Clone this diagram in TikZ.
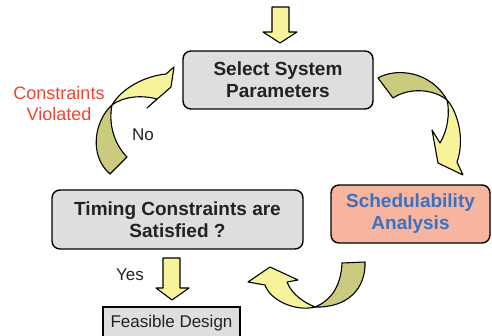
\documentclass[tikz,border=0pt]{standalone}
\usepackage{fontspec}
\setmainfont{Liberation Sans}
\definecolor{boxgray}{HTML}{DEDEDE}
\definecolor{salmon}{HTML}{F7B49E}
\definecolor{schedblue}{HTML}{3A72C2}
\definecolor{arrowlight}{HTML}{F6F39B}
\definecolor{arrowdark}{HTML}{CBCB80}
\definecolor{violred}{HTML}{EE4433}
\definecolor{textgray}{HTML}{222222}

\begin{document}
\begin{tikzpicture}[x=1pt, y=-1pt,
    stage/.style={draw, line width=1.4pt, rounded corners=8pt, fill=boxgray, align=center,
        text=textgray, font=\fontsize{19}{22}\selectfont\bfseries, inner sep=0pt},
    light/.style={draw, line width=1.1pt, line join=round, fill=arrowlight},
    dark/.style={draw, line width=1.1pt, line join=round, fill=arrowdark},
    note/.style={text=textgray, font=\fontsize{17}{20}\selectfont, inner sep=0pt}]

    \useasboundingbox (0,0) rectangle (492,336);
    \clip (0,0) rectangle (492,336);

    % Cac khoi chinh
    \node[stage, minimum width=190pt, minimum height=58pt] (select) at (278,80) {Select System\\Parameters};
    \node[stage, minimum width=251pt, minimum height=59pt] (timing) at (177.5,219.5) {Timing Constraints are\\Satisfied ?};
    \node[stage, fill=salmon, text=schedblue, minimum width=159pt, minimum height=58pt] (sched) at (410.5,214) {Schedulability\\Analysis};
    \node[draw, line width=1.4pt, fill=boxgray, text=textgray, font=\fontsize{17}{20}\selectfont,
        minimum width=137pt, minimum height=32pt, inner sep=0pt] (feasible) at (171.5,323) {Feasible Design};

    % Mui ten thang
    \draw[light] (272,7) -- (289,7) -- (289,32) -- (297,32) -- (280,43) -- (263,32) -- (272,32) -- cycle;
    \draw[light] (163,258) -- (180,258) -- (180,288) -- (189,288) -- (172,300) -- (156,288) -- (163,288) -- cycle;

    % Mui ten cong: select -> sched
    \draw[dark] (378,78) .. controls (395,68) and (430,70) .. (447,100)
        .. controls (432,88) and (408,88) .. (393,98) -- cycle;
    \draw[light] (447,100) .. controls (458,112) and (465,140) .. (457,162) -- (463,175) -- (438,163)
        -- (432,130) -- (440,143) .. controls (448,130) and (450,112) .. (447,100) -- cycle;

    % Mui ten cong: sched -> timing
    \draw[dark] (342,263) -- (365,262) .. controls (366,288) and (348,308) .. (315,307)
        .. controls (332,300) and (341,285) .. (342,263) -- cycle;
    \draw[light] (315,307) .. controls (295,312) and (270,300) .. (265,285) -- (248,282) -- (270,267)
        -- (298,280) -- (287,282) .. controls (292,295) and (305,303) .. (315,307) -- cycle;

    % Mui ten cong: timing -> select
    \draw[dark] (112,105) .. controls (95,120) and (88,155) .. (110,174) -- (127,157)
        .. controls (115,145) and (108,125) .. (112,105) -- cycle;
    \draw[light] (112,105) .. controls (122,88) and (145,76) .. (166,74) -- (174,67) -- (171,87)
        -- (147,108) -- (157,99) .. controls (142,95) and (124,96) .. (112,105) -- cycle;

    % Nhan
    \node[note, text=violred, font=\fontsize{18}{21}\selectfont, align=center] (violated) at (59,103.5) {Constraints\\Violated};
    \node[note] (no) at (143,135) {No};
    \node[note] (yes) at (130,275) {Yes};
\end{tikzpicture}
\end{document}
